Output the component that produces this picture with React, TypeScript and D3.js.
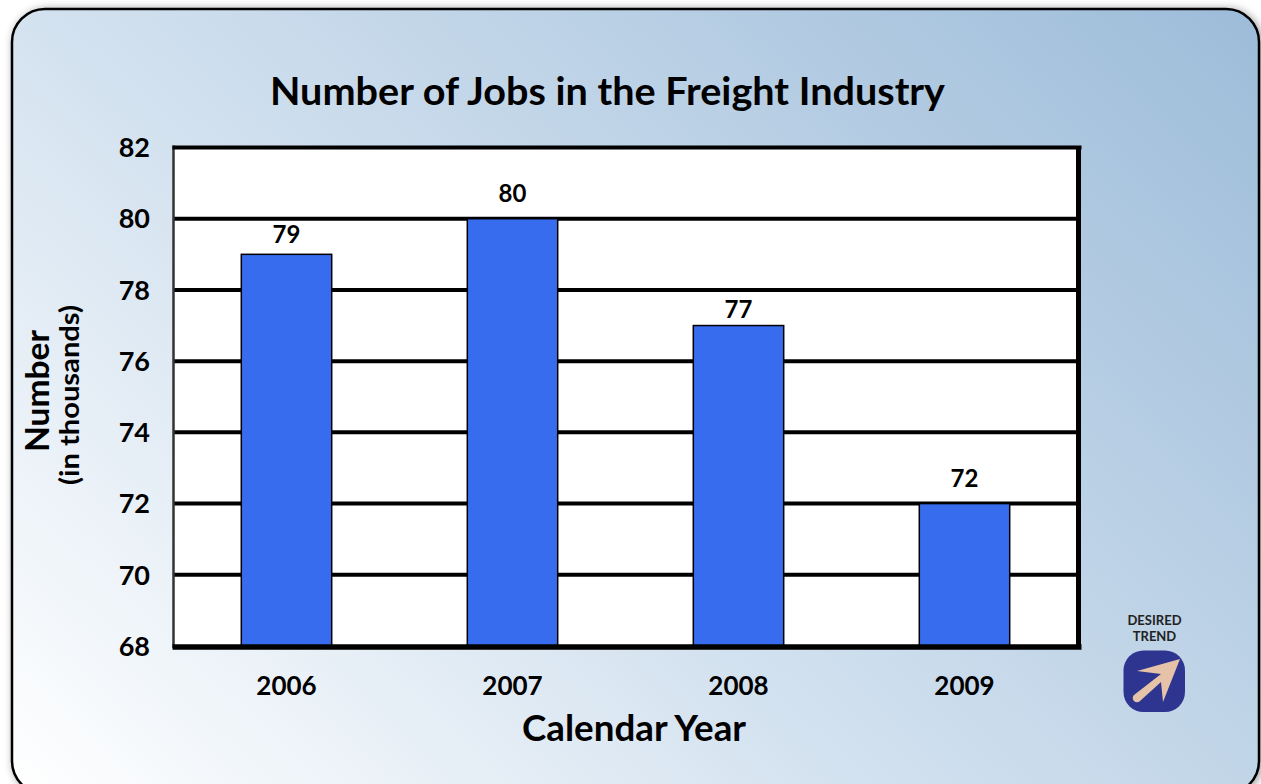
import React from "react";
import * as d3 from "d3";

const years = ["2006", "2007", "2008", "2009"];
const jobs = [79, 80, 77, 72];
const labelGaps = [11, 17, 8, 17];
const yTicks = [68, 70, 72, 74, 76, 78, 80, 82];
const titleText = "Number of Jobs in the Freight Industry";
const xTitle = "Calendar Year";
const yTitle = "Number";
const ySubTitle = "(in thousands)";
const legendLines = ["DESIRED", "TREND"];

const W = 1261, H = 784;
const plot = { left: 173.5, right: 1077.5, top: 147.5, bottom: 646 };
const FONT = "Lato, 'Open Sans', sans-serif";

export default function App() {
  const x = d3.scaleBand<string>().domain(years).range([plot.left, plot.right]).paddingInner(0.6).paddingOuter(0.3);
  const y = d3.scaleLinear().domain([68, 82]).range([plot.bottom, plot.top]);
  return (
    <svg width={W} height={H} viewBox={`0 0 ${W} ${H}`} style={{ position: "absolute", left: 0, top: 0, display: "block" }}>
      <defs>
        <linearGradient id="bg" gradientUnits="userSpaceOnUse" x1="15" y1="790" x2="989" y2="-242">
          <stop offset="0" stopColor="#ffffff" />
          <stop offset="0.42" stopColor="#d2e1ef" />
          <stop offset="1" stopColor="#9dbcd9" />
        </linearGradient>
        <filter id="shadow" x="-5%" y="-5%" width="110%" height="110%">
          <feDropShadow dx="2" dy="1" stdDeviation="4" floodColor="#000" floodOpacity="0.4" />
        </filter>
      </defs>
      <rect x={12} y={9} width={1247} height={785} rx={33} ry={33} fill="url(#bg)" stroke="#000" strokeWidth={2.5} filter="url(#shadow)" />

      <text x={607.5} y={105} textAnchor="middle" fontFamily={FONT} fontWeight={700} fontSize={39} textLength={675} lengthAdjust="spacingAndGlyphs" fill="#000">{titleText}</text>

      <rect x={plot.left} y={plot.top} width={plot.right - plot.left} height={plot.bottom - plot.top} fill="#fff" />
      {yTicks.slice(1, -1).map((t) => (
        <line key={t} x1={plot.left} x2={plot.right} y1={y(t)} y2={y(t)} stroke="#000" strokeWidth={4} />
      ))}
      {jobs.map((v, i) => (
        <rect key={years[i]} x={x(years[i])} y={y(v)} width={x.bandwidth()} height={plot.bottom - y(v)} fill="#366ced" stroke="#000" strokeWidth={1.5} />
      ))}
      <line x1={plot.left} x2={plot.left} y1={plot.top - 2} y2={plot.bottom + 2} stroke="#333" strokeWidth={2.5} />
      <line x1={plot.left - 1} x2={plot.right + 4} y1={plot.top} y2={plot.top} stroke="#000" strokeWidth={4} />
      <line x1={plot.right + 1} x2={plot.right + 1} y1={plot.top} y2={plot.bottom} stroke="#000" strokeWidth={5} />
      <line x1={plot.left - 1} x2={plot.right + 4} y1={plot.bottom + 1} y2={plot.bottom + 1} stroke="#000" strokeWidth={5.5} />

      {yTicks.map((t) => (
        <text key={t} x={150} y={y(t)} dy="0.36em" textAnchor="end" fontFamily={FONT} fontWeight={700} fontSize={27} fill="#000">{t}</text>
      ))}
      {jobs.map((v, i) => (
        <text key={years[i]} x={x(years[i])! + x.bandwidth() / 2} y={y(v) - labelGaps[i]} textAnchor="middle" fontFamily={FONT} fontWeight={700} fontSize={24} fill="#000">{v}</text>
      ))}
      {years.map((yr) => (
        <text key={yr} x={x(yr)! + x.bandwidth() / 2} y={695} textAnchor="middle" fontFamily={FONT} fontWeight={700} fontSize={26} fill="#000">{yr}</text>
      ))}
      <text x={634} y={741} textAnchor="middle" fontFamily={FONT} fontWeight={700} fontSize={36} textLength={224} lengthAdjust="spacingAndGlyphs" fill="#000">{xTitle}</text>
      <text transform="translate(49,391) rotate(-90)" textAnchor="middle" fontFamily={FONT} fontWeight={700} fontSize={33} textLength={122} lengthAdjust="spacingAndGlyphs" fill="#000">{yTitle}</text>
      <text transform="translate(79,395) rotate(-90)" textAnchor="middle" fontFamily={FONT} fontWeight={700} fontSize={27} textLength={180} lengthAdjust="spacingAndGlyphs" fill="#000">{ySubTitle}</text>

      {legendLines.map((l, i) => (
        <text key={l} x={1154.5} y={625 + i * 15.5} textAnchor="middle" fontFamily={FONT} fontWeight={700} fontSize={13} fill="#222">{l}</text>
      ))}
      <rect x={1123.5} y={650.5} width={61.5} height={61.5} rx={20} fill="#2e3590" />
      <path d="M1180 659 L1137 671 L1161 674 L1134 695 A4 4 0 0 0 1140 701 L1161 682 L1163 702 Z" fill="#e6c3a8" />
    </svg>
  );
}
